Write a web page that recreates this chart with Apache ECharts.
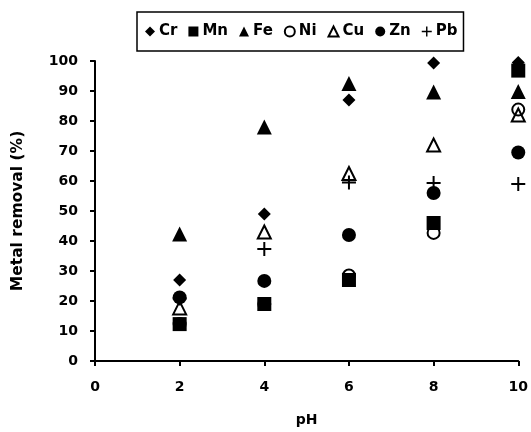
<!DOCTYPE html>
<html>
<head>
<meta charset="utf-8">
<script src="https://cdn.jsdelivr.net/npm/echarts@6/dist/echarts.min.js"></script>
<style>
  html, body { margin: 0; padding: 0; background: #fff; }
  #chart { width: 531px; height: 432px; }
</style>
</head>
<body>
<div id="chart"></div>
<script>
// pH values and removal (%) per metal
const ph = [2, 4, 6, 8, 10]
const cr = [27, 49, 87, 99.3, 99.5]
const mn = [12.3, 19, 27, 46, 96.8]
const fe = [42.3, 78, 92.5, 89.7, 89.8]
const ni = [12.3, 19, 28.5, 42.7, 83.8]
const cu = [17.7, 43, 62.5, 72, 82]
const zn = [21.2, 26.7, 42, 56, 69.5]
const pb = [20.8, 37.3, 59.5, 59.3, 59]

const font = 'DejaVu Sans'
const plus = 'path://M6,0H8V6H14V8H8V14H6V8H0V6H6Z'

function pts(vals) {
  return ph.map((x, i) => [x, vals[i]])
}

function solid(name, vals, symbol, size) {
  return {
    name: name, type: 'scatter', data: pts(vals),
    symbol: symbol, symbolSize: size,
    itemStyle: { color: '#000', opacity: 1 },
    emphasis: { disabled: true }
  }
}

function hollow(name, vals, symbol, size) {
  return {
    name: name, type: 'scatter', data: pts(vals),
    symbol: symbol, symbolSize: size,
    itemStyle: { color: 'rgba(0,0,0,0)', borderColor: '#000', borderWidth: 2, opacity: 1 },
    emphasis: { disabled: true }
  }
}

const axisText = { color: '#000', fontFamily: font, fontWeight: 'bold', fontSize: 14 }

let oChart = echarts.init(document.getElementById('chart'))
oChart.setOption({
  animation: false,
  legend: {
    left: 137, top: 12,
    padding: [12, 6, 12, 8],
    borderColor: '#000', borderWidth: 1.5,
    itemWidth: 10, itemHeight: 10, itemGap: 11,
    textStyle: { color: '#000', fontFamily: font, fontWeight: 'bold', fontSize: 15, padding: [0, 0, 0, -1] },
    data: ['Cr', 'Mn', 'Fe', 'Ni', 'Cu', 'Zn', 'Pb']
  },
  grid: { left: 95, right: 12, top: 61, bottom: 71 },
  xAxis: {
    type: 'value', min: 0, max: 10, interval: 2,
    name: 'pH', nameLocation: 'middle', nameGap: 52,
    nameTextStyle: axisText,
    axisLine: { lineStyle: { color: '#000', width: 2 } },
    axisTick: { length: 5, lineStyle: { color: '#000', width: 2 } },
    axisLabel: Object.assign({ margin: 19 }, axisText),
    splitLine: { show: false }
  },
  yAxis: {
    type: 'value', min: 0, max: 100, interval: 10,
    name: 'Metal removal (%)', nameLocation: 'middle', nameGap: 69,
    nameTextStyle: Object.assign({}, axisText, { fontSize: 15.5 }),
    axisLine: { show: true, lineStyle: { color: '#000', width: 2 } },
    axisTick: { show: true, length: 5, lineStyle: { color: '#000', width: 2 } },
    axisLabel: Object.assign({ margin: 17 }, axisText),
    splitLine: { show: false }
  },
  series: [
    solid('Cr', cr, 'diamond', 13),
    solid('Mn', mn, 'rect', 14),
    solid('Fe', fe, 'triangle', 15),
    hollow('Ni', ni, 'circle', 12),
    hollow('Cu', cu, 'triangle', 13),
    solid('Zn', zn, 'circle', 14),
    solid('Pb', pb, plus, 14)
  ]
})
</script>
</body>
</html>
